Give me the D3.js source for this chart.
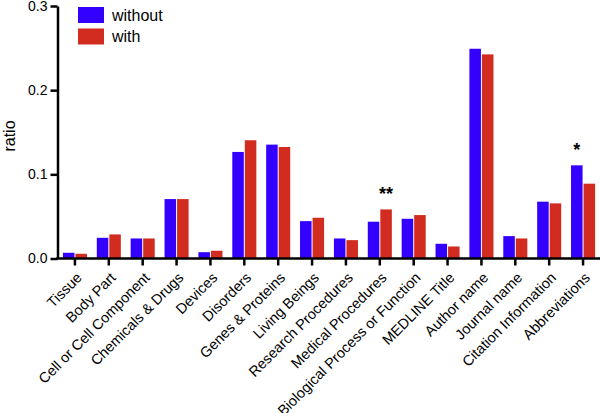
<!DOCTYPE html>
<html>
<head>
<meta charset="utf-8">
<script src="https://cdn.jsdelivr.net/npm/d3@7"></script>
<style>
  body { margin: 0; background: #fff; }
  text { font-family: "Liberation Sans", Arial, Helvetica, sans-serif; }
</style>
</head>
<body>
<svg id="chart" width="600" height="413"></svg>
<script>
const categories = ["Tissue", "Body Part", "Cell or Cell Component", "Chemicals & Drugs", "Devices", "Disorders", "Genes & Proteins", "Living Beings", "Research Procedures", "Medical Procedures", "Biological Process or Function", "MEDLINE Title", "Author name", "Journal name", "Citation Information", "Abbreviations"];
const seriesNames = ["without", "with"];
const withoutValues = [0.0068, 0.0246, 0.0238, 0.0706, 0.0075, 0.1266, 0.1353, 0.0444, 0.0238, 0.0437, 0.0472, 0.0175, 0.2492, 0.0266, 0.0675, 0.1107];
const withValues = [0.0056, 0.0286, 0.0238, 0.0706, 0.0092, 0.1405, 0.1325, 0.0484, 0.0218, 0.0583, 0.0516, 0.0143, 0.2425, 0.0238, 0.0655, 0.0889];
const yTicks = [0.0, 0.1, 0.2, 0.3];
const annotations = [{ category: "Medical Procedures", series: "with", label: "**" }, { category: "Abbreviations", series: "without", label: "*" }];

const colors = { "without": "#3300ff", "with": "#d22b1f" };
const svg = d3.select("#chart");

const x0 = d3.scaleBand().domain(categories).range([58, 600]).paddingInner(0.29).paddingOuter(0.145);
const x1 = d3.scaleBand().domain(seriesNames).range([0, x0.bandwidth()]).paddingInner(0.08);
const y = d3.scaleLinear().domain([0, 0.3]).range([258.5, 6]);

const data = categories.map((c, i) => ({ category: c, values: { "without": withoutValues[i], "with": withValues[i] } }));

// bars
const groups = svg.append("g").selectAll("g").data(data).join("g")
  .attr("transform", d => `translate(${x0(d.category)},0)`);
groups.selectAll("rect").data(d => seriesNames.map(s => ({ s, v: d.values[s] }))).join("rect")
  .attr("x", d => x1(d.s))
  .attr("width", x1.bandwidth())
  .attr("y", d => y(d.v))
  .attr("height", d => y(0) - y(d.v))
  .attr("fill", d => colors[d.s]);

// y axis
const yAxis = svg.append("g").attr("transform", "translate(57.5,0)")
  .call(d3.axisLeft(y).tickValues(yTicks).tickFormat(d3.format(".1f")).tickSize(7).tickSizeOuter(0).tickPadding(3));
yAxis.select(".domain").attr("stroke", "#000").attr("stroke-width", 2.5);
yAxis.selectAll(".tick line").attr("stroke", "#000").attr("stroke-width", 2.5);
yAxis.selectAll(".tick text").attr("font-size", 14).attr("fill", "#000").attr("font-family", "Liberation Sans, Arial, sans-serif");

// x axis
const xAxis = svg.append("g").attr("transform", `translate(0,${y(0)})`)
  .call(d3.axisBottom(x0).tickSize(7).tickSizeOuter(0).tickFormat(""));
xAxis.select(".domain").attr("stroke", "#000").attr("stroke-width", 2.5).attr("d", "M56.3,0H600");
xAxis.selectAll(".tick line").attr("stroke", "#000").attr("stroke-width", 2.5);

// category labels rotated
svg.append("g").selectAll("text").data(categories).join("text")
  .attr("transform", d => `translate(${x0(d) + x0.bandwidth() / 2 + 0.7},${y(0) + 12.9}) rotate(-45)`)
  .attr("text-anchor", "end")
  .attr("dy", "0.7em")
  .attr("font-size", 14.5)
  .attr("fill", "#000")
  .text(d => d);

// y label
svg.append("text")
  .attr("transform", "translate(15,136) rotate(-90)")
  .attr("text-anchor", "middle")
  .attr("font-size", 16)
  .attr("fill", "#000")
  .text("ratio");

// annotations
svg.append("g").selectAll("text").data(annotations).join("text")
  .attr("x", d => x0(d.category) + x1(d.series) + x1.bandwidth() / 2)
  .attr("y", d => y(data.find(e => e.category === d.category).values[d.series]) - 9)
  .attr("text-anchor", "middle")
  .attr("font-size", 18)
  .attr("font-weight", "bold")
  .attr("fill", "#000")
  .text(d => d.label);

// legend
const legend = svg.append("g").attr("transform", "translate(78,7)");
const li = legend.selectAll("g").data(seriesNames).join("g")
  .attr("transform", (d, i) => `translate(0,${i * 21.5})`);
li.append("rect").attr("width", 26).attr("height", 16).attr("fill", d => colors[d]);
li.append("text").attr("x", 34).attr("y", 13.5).attr("font-size", 16).attr("fill", "#000").text(d => d);
</script>
</body>
</html>
